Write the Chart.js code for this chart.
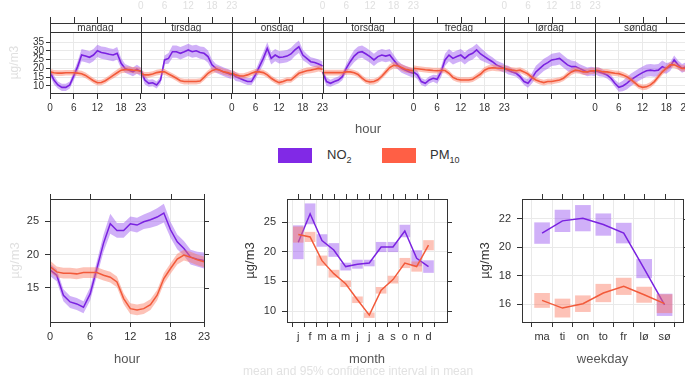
<!DOCTYPE html>
<html>
<head>
<meta charset="utf-8">
<script src="https://cdn.jsdelivr.net/npm/chart.js@4.4.0/dist/chart.umd.min.js"></script>
<style>
  body { margin: 0; background: #fff; width: 685px; height: 378px; overflow: hidden; position: relative; font-family: "Liberation Sans", Arial, sans-serif; }
  canvas { position: absolute; }
  .sw { position: absolute; width: 34px; height: 15px; top: 148px; }
  .lb { position: absolute; top: 147px; font-size: 13px; color: #333; }
  .lb sub { font-size: 9px; }
  #caption { position: absolute; left: 243px; top: 364px; font-size: 12px; color: #e2e2e2; white-space: nowrap; }
</style>
</head>
<body>
<canvas id="week" width="700" height="140" style="left:0;top:0"></canvas>

<span class="sw" style="left:278px;background:#8129e6"></span><span class="lb" style="left:327px">NO<sub>2</sub></span>
<span class="sw" style="left:382px;background:#ff5f45"></span><span class="lb" style="left:430px">PM<sub>10</sub></span>

<canvas id="hour" width="230" height="198" style="left:0;top:180px"></canvas>
<canvas id="month" width="230" height="198" style="left:230px;top:180px"></canvas>
<canvas id="weekday" width="230" height="198" style="left:455px;top:180px"></canvas>
<div id="caption">mean and 95% confidence interval in mean</div>

<script>
// ---- data ----
const dayNames = ["mandag", "tirsdag", "onsdag", "torsdag", "fredag", "lørdag", "søndag"];
const hourTicks = [0, 6, 12, 18, 23];

const no2Mon = [18, 13.4, 10.6, 9.2, 9.2, 10.6, 15.7, 21, 27.6, 27, 26.3, 27.6, 30, 29, 28.6, 28, 27.6, 28.6, 22.9, 20, 19, 18, 19.5, 18];
const pm10Mon = [18, 17.5, 17.3, 17.3, 17.5, 17.5, 17.5, 17.3, 17, 16, 14.5, 13, 11.8, 12, 13, 14.5, 16, 17.5, 19, 19.3, 19.3, 19, 18.8, 18.5];
const no2Tue = [19, 13.4, 11.5, 11.8, 10.6, 13.4, 24.8, 25.7, 29.5, 29.5, 28.6, 29.5, 30.5, 29.5, 30, 29, 28.6, 26.7, 22, 20, 19, 18, 17.2, 16.3];
const pm10Tue = [17.2, 16.3, 16.3, 16.8, 17.6, 18, 18, 16.8, 15.7, 14.4, 13, 12.5, 12.5, 12.5, 12.5, 12.8, 14.9, 17.2, 18.7, 19.5, 19, 18, 17.6, 16.8];
const no2Wed = [17.2, 15.3, 14.4, 13.4, 12.5, 12.5, 16.3, 21, 25.7, 31.4, 25.7, 27.6, 26.3, 26.5, 27, 28.2, 30.5, 32.3, 27.6, 25.7, 23.8, 23.3, 22.5, 21.4];
const pm10Wed = [17.6, 16.3, 15.7, 15.7, 16.3, 17.2, 18, 18, 17.6, 16.3, 14.4, 13, 11.9, 12.5, 13.4, 13.4, 15.3, 17.2, 18, 18.7, 19, 19.5, 20, 19.5];
const no2Thu = [18, 12.5, 11.5, 12.5, 13.4, 15.3, 20, 23.8, 27, 29, 29.5, 28.2, 26.7, 24.8, 26.7, 27.6, 27, 27.6, 24.8, 22, 20, 19, 18, 17.2];
const pm10Thu = [17.6, 17.6, 17.6, 17.6, 17.6, 17.6, 18, 18, 17.5, 16.5, 14.5, 12.8, 12.3, 12.5, 13.5, 15.5, 18, 20.5, 21.8, 21.5, 20.5, 19.5, 19, 18.6];
const no2Fri = [18, 16.3, 12.5, 11.5, 13.4, 14.4, 13.8, 18, 24.8, 27.6, 25.7, 26.7, 27.6, 25.7, 27.6, 28.6, 30.5, 28.2, 26.7, 25.2, 23.8, 22, 21, 20];
const pm10Fri = [20, 19.8, 19.5, 19.2, 19, 18.8, 18.7, 18.8, 18.8, 17.2, 14.9, 13.8, 13.4, 13.4, 13.4, 13.8, 15.3, 16.8, 19, 20, 20.4, 20.2, 20.1, 20];
const no2Sat = [20, 19, 18, 17.2, 15.3, 12.5, 11.5, 14.4, 18, 20, 22, 23.3, 24.8, 25.2, 25.7, 23.8, 22, 21, 21, 20, 19, 18, 18.5, 18];
const pm10Sat = [20, 19.5, 19, 18.7, 19, 18, 16.8, 14.9, 13.4, 12.5, 11.9, 12.5, 12.5, 13, 13.4, 14.4, 16.3, 18, 19, 18.7, 18, 18, 18.6, 18.6];
const no2Sun = [18.7, 18, 17.2, 16.3, 14.4, 11.5, 9.2, 10, 11.5, 13.4, 14.9, 16.3, 17.6, 18.7, 19, 18.7, 19, 21, 20, 21, 24.8, 22, 20, 21];
const pm10Sun = [19, 18.7, 18, 18, 17.6, 17.2, 17, 16.3, 15.3, 13.8, 11.9, 10, 9.2, 9.5, 10.6, 12.5, 15.3, 18, 20, 22, 22, 21, 20, 20];
// half width of the 95% band in the week panel, by hour
const ciNo2Week = [2, 2.5, 2, 2, 2, 2, 2.5, 3, 3.5, 3.5, 3.5, 3.5, 3.5, 3.5, 3.5, 3.5, 3.5, 3.5, 3, 2.5, 2.5, 2.5, 2.5, 2.5];
const ciPm10Week = [1.8, 1.6, 1.6, 1.6, 1.6, 1.6, 1.6, 1.6, 1.6, 1.6, 1.6, 1.6, 1.6, 1.6, 1.6, 1.6, 1.8, 1.8, 1.8, 1.8, 1.8, 1.8, 1.8, 1.8];

const no2Hour = [17.7, 16.9, 13.9, 12.9, 12.6, 12.1, 14.1, 17.9, 21.7, 24.6, 23.6, 23.6, 24.6, 24.4, 24.9, 25.2, 25.6, 26.2, 23.7, 21.9, 20.9, 19.6, 19.3, 19.1];
const ciNo2Hour = [0.9, 0.9, 0.9, 0.9, 0.9, 0.9, 1, 1.1, 1.3, 1.5, 1.1, 1.1, 1.1, 1.1, 1.1, 1.2, 1.3, 1.4, 1.2, 1.1, 1.1, 1.1, 1.1, 1.2];
const pm10Hour = [18.2, 17.4, 17.2, 17.2, 17.1, 17.3, 17.3, 17.3, 16.9, 16.6, 15.9, 13.4, 11.9, 11.7, 11.9, 12.5, 13.9, 16.4, 17.9, 19.3, 19.9, 19.6, 19.2, 18.9];
const ciPm10Hour = [0.9, 0.8, 0.8, 0.8, 0.8, 0.8, 0.8, 0.8, 0.8, 0.8, 0.8, 0.8, 0.8, 0.8, 0.8, 0.8, 0.8, 0.8, 0.8, 0.8, 0.8, 0.8, 0.8, 0.8];

const monthLabels = ["j", "f", "m", "a", "m", "j", "j", "a", "s", "o", "n", "d"];
const no2Month = [21.6, 26.4, 21.9, 20.3, 17.5, 17.9, 18.1, 20.8, 20.8, 23.5, 18.9, 17.5];
const ciNo2Month = [2.8, 1.7, 1.0, 1.1, 0.6, 0.7, 0.5, 0.8, 0.8, 1.0, 1.3, 1.0];
const pm10Month = [22.9, 22.5, 18.5, 16.3, 14.6, 11.9, 9.3, 13.5, 15.3, 18.1, 17.5, 21.1];
const ciPm10Month = [1.3, 0.8, 0.8, 0.6, 0.5, 0.5, 0.4, 0.5, 0.6, 0.8, 0.8, 0.8];

const weekdayLabels = ["ma", "ti", "on", "to", "fr", "lø", "sø"];
const no2Weekday = [21.0, 21.86, 22.05, 21.6, 21.0, 18.5, 15.95];
const ciNo2Weekday = [0.73, 0.76, 0.9, 0.76, 0.7, 0.65, 0.76];
const pm10Weekday = [16.26, 15.72, 16.03, 16.78, 17.25, 16.66, 16.03];
const ciPm10Weekday = [0.5, 0.64, 0.56, 0.62, 0.58, 0.54, 0.64];

// ---- styling ----
const NO2_LINE = "#7a22e0", NO2_FILL = "rgba(150,80,240,0.45)";
const PM_LINE = "#f25a3a", PM_FILL = "rgba(250,120,95,0.45)";
const INK = "#333", GRID = "#e9e9e9", FAINT = "#e0e0e0";

Chart.defaults.font.family = "'Liberation Sans', Arial, sans-serif";
Chart.defaults.color = INK;
Chart.defaults.animation = false;
Chart.defaults.plugins.legend.display = false;
Chart.defaults.plugins.tooltip.enabled = false;

// ---- week panel ----
const no2Week = [no2Mon, no2Tue, no2Wed, no2Thu, no2Fri, no2Sat, no2Sun];
const pm10Week = [pm10Mon, pm10Tue, pm10Wed, pm10Thu, pm10Fri, pm10Sat, pm10Sun];

function weekPoints(days, ci, sign) {
  const pts = [];
  days.forEach((vals, d) => {
    vals.forEach((v, h) => pts.push({ x: d * 23 + h, y: v + sign * ci[h] }));
    pts.push({ x: d * 23 + 23, y: null });
  });
  return pts;
}

const weekDecor = {
  id: "weekDecor",
  afterDraw(chart) {
    const { ctx, chartArea: a, scales: { x } } = chart;
    const stripTop = 23;
    ctx.save();
    ctx.strokeStyle = INK;
    ctx.lineWidth = 1;
    ctx.strokeRect(a.left + 0.5, stripTop + 0.5, a.right - a.left, a.bottom - stripTop);
    ctx.beginPath();
    ctx.moveTo(a.left, a.top + 0.5);
    ctx.lineTo(a.right, a.top + 0.5);
    for (let d = 1; d < 7; d++) {
      const px = Math.round(x.getPixelForValue(d * 23)) + 0.5;
      ctx.moveTo(px, stripTop);
      ctx.lineTo(px, a.bottom);
    }
    x.ticks.forEach(t => {
      const px = Math.round(x.getPixelForValue(t.value)) + 0.5;
      ctx.moveTo(px, stripTop);
      ctx.lineTo(px, stripTop - 6);
    });
    ctx.stroke();
    ctx.font = "10px 'Liberation Sans', Arial";
    ctx.textAlign = "center";
    ctx.textBaseline = "middle";
    ctx.fillStyle = INK;
    dayNames.forEach((n, d) => ctx.fillText(n, x.getPixelForValue(d * 23 + 11.5), (stripTop + a.top) / 2 + 0.5));
    ctx.fillStyle = FAINT;
    [1, 3, 5].forEach(d => hourTicks.forEach(h => ctx.fillText(String(h), x.getPixelForValue(d * 23 + h), 6)));
    ctx.restore();
  }
};

new Chart(document.getElementById("week"), {
  type: "line",
  data: {
    datasets: [
      { data: weekPoints(no2Week, ciNo2Week, 1), borderWidth: 0, pointRadius: 0, backgroundColor: NO2_FILL, fill: "+1", order: 4 },
      { data: weekPoints(no2Week, ciNo2Week, -1), borderWidth: 0, pointRadius: 0, fill: false, order: 4 },
      { data: weekPoints(no2Week, ciNo2Week, 0), borderColor: NO2_LINE, borderWidth: 1.6, pointRadius: 0, fill: false, order: 3 },
      { data: weekPoints(pm10Week, ciPm10Week, 1), borderWidth: 0, pointRadius: 0, backgroundColor: PM_FILL, fill: "+1", order: 2 },
      { data: weekPoints(pm10Week, ciPm10Week, -1), borderWidth: 0, pointRadius: 0, fill: false, order: 2 },
      { data: weekPoints(pm10Week, ciPm10Week, 0), borderColor: PM_LINE, borderWidth: 1.6, pointRadius: 0, fill: false, order: 1 }
    ]
  },
  options: {
    responsive: false,
    layout: { padding: { top: 32, right: 14, left: 0, bottom: 0 } },
    scales: {
      x: {
        type: "linear", min: 0, max: 161,
        afterBuildTicks: s => {
          const t = [];
          for (let d = 0; d < 7; d++) [0, 6, 12, 18].forEach(h => t.push({ value: d * 23 + h }));
          t.push({ value: 161 });
          s.ticks = t;
        },
        afterFit: s => { s.height = 47; },
        ticks: {
          autoSkip: false, maxRotation: 0, padding: 3, font: { size: 10 },
          callback: v => {
            const d = Math.floor(v / 23), h = v - d * 23;
            if (h === 0) {
              if (d === 7) return "23";
              if (d % 2 === 0) return "0";
              return "23";
            }
            return d % 2 === 0 ? String(h) : "";
          }
        },
        grid: {
          color: c => (c.tick && c.tick.value % 23 === 0) ? "rgba(0,0,0,0)" : GRID,
          tickColor: INK, tickLength: 6
        },
        border: { display: false },
        title: { display: true, text: "hour", font: { size: 13 }, color: "#555", padding: { top: 0, bottom: 2.8 } }
      },
      y: {
        min: 6, max: 40.7,
        afterBuildTicks: s => { s.ticks = [10, 15, 20, 25, 30, 35].map(v => ({ value: v })); },
        afterFit: s => { s.width = 50; },
        ticks: { autoSkip: false, padding: 2, font: { size: 10, lineHeight: 1 } },
        grid: { color: GRID, tickColor: INK, tickLength: 4 },
        border: { display: false },
        title: { display: true, text: "µg/m3", color: FAINT, font: { size: 12 }, padding: { top: 7.8, bottom: 0 } }
      }
    }
  },
  plugins: [weekDecor]
});

// ---- bottom panels ----
const frame = {
  id: "frame",
  afterDraw(chart) {
    const { ctx, chartArea: a, scales: { x, y } } = chart;
    ctx.save();
    ctx.strokeStyle = INK;
    ctx.lineWidth = 1;
    ctx.strokeRect(a.left + 0.5, a.top + 0.5, a.right - a.left, a.bottom - a.top);
    ctx.beginPath();
    x.ticks.forEach(t => {
      const px = Math.round(x.getPixelForValue(t.value)) + 0.5;
      ctx.moveTo(px, a.top);
      ctx.lineTo(px, a.top - 5);
    });
    y.ticks.forEach(t => {
      const py = Math.round(y.getPixelForValue(t.value)) + 0.5;
      ctx.moveTo(a.right, py);
      ctx.lineTo(a.right + 5, py);
    });
    ctx.stroke();
    ctx.restore();
  }
};

function panelScales(opt) {
  return {
    x: {
      type: "linear", min: opt.xmin, max: opt.xmax,
      afterBuildTicks: s => { s.ticks = opt.xticks.map(v => ({ value: v })); },
      afterFit: s => { s.height = 56; },
      ticks: { autoSkip: false, maxRotation: 0, padding: 3, font: { size: 11 }, callback: opt.xlabel },
      grid: { color: GRID, tickColor: INK, tickLength: 5 },
      border: { display: false },
      title: { display: true, text: opt.xtitle, color: "#555", font: { size: 13 }, padding: { top: 0, bottom: 10.8 } }
    },
    y: {
      min: opt.ymin, max: opt.ymax,
      afterBuildTicks: s => { s.ticks = opt.yticks.map(v => ({ value: v })); },
      afterFit: s => { s.width = opt.yw; },
      ticks: { autoSkip: false, padding: 6, font: { size: 11 } },
      grid: { color: GRID, tickColor: INK, tickLength: 5 },
      border: { display: false },
      title: { display: true, text: "µg/m3", color: opt.ytitleColor, font: { size: 13 }, padding: { top: opt.ytitlePad, bottom: 0 } }
    }
  };
}

function xy(vals, ci, sign) {
  return vals.map((v, i) => ({ x: i, y: v + sign * ci[i] }));
}
function boxes(vals, ci) {
  return vals.map((v, i) => ({ x: i, y: [v - ci[i], v + ci[i]] }));
}

// hour
new Chart(document.getElementById("hour"), {
  type: "line",
  data: {
    datasets: [
      { data: xy(no2Hour, ciNo2Hour, 1), borderWidth: 0, pointRadius: 0, backgroundColor: NO2_FILL, fill: "+1", order: 4 },
      { data: xy(no2Hour, ciNo2Hour, -1), borderWidth: 0, pointRadius: 0, fill: false, order: 4 },
      { data: xy(no2Hour, ciNo2Hour, 0), borderColor: NO2_LINE, borderWidth: 1.5, pointRadius: 0, fill: false, order: 3 },
      { data: xy(pm10Hour, ciPm10Hour, 1), borderWidth: 0, pointRadius: 0, backgroundColor: PM_FILL, fill: "+1", order: 2 },
      { data: xy(pm10Hour, ciPm10Hour, -1), borderWidth: 0, pointRadius: 0, fill: false, order: 2 },
      { data: xy(pm10Hour, ciPm10Hour, 0), borderColor: PM_LINE, borderWidth: 1.5, pointRadius: 0, fill: false, order: 1 }
    ]
  },
  options: {
    responsive: false,
    layout: { padding: { top: 19, right: 26, left: 0, bottom: 0 } },
    scales: panelScales({
      xmin: 0, xmax: 23, xticks: hourTicks, xlabel: v => String(v), xtitle: "hour",
      ymin: 9.9, ymax: 28.3, yticks: [15, 20, 25], yw: 50, ytitleColor: FAINT, ytitlePad: 7.8
    })
  },
  plugins: [frame]
});

// month
new Chart(document.getElementById("month"), {
  type: "line",
  data: {
    datasets: [
      { type: "bar", data: boxes(no2Month, ciNo2Month), backgroundColor: NO2_FILL, barThickness: 10, grouped: false, order: 4 },
      { data: xy(no2Month, ciNo2Month, 0), borderColor: NO2_LINE, borderWidth: 1.5, pointRadius: 0, fill: false, order: 3 },
      { type: "bar", data: boxes(pm10Month, ciPm10Month), backgroundColor: PM_FILL, barThickness: 10, grouped: false, order: 2 },
      { data: xy(pm10Month, ciPm10Month, 0), borderColor: PM_LINE, borderWidth: 1.5, pointRadius: 0, fill: false, order: 1 }
    ]
  },
  options: {
    responsive: false,
    layout: { padding: { top: 19, right: 13, left: 0, bottom: 0 } },
    scales: panelScales({
      xmin: -0.39, xmax: 12.0, xticks: monthLabels.map((m, i) => i), xlabel: v => monthLabels[v], xtitle: "month",
      ymin: 8.15, ymax: 28.9, yticks: [10, 15, 20, 25], yw: 57, ytitleColor: INK, ytitlePad: 12.8
    })
  },
  plugins: [frame]
});

// weekday
new Chart(document.getElementById("weekday"), {
  type: "line",
  data: {
    datasets: [
      { type: "bar", data: boxes(no2Weekday, ciNo2Weekday), backgroundColor: NO2_FILL, barThickness: 15, grouped: false, order: 4 },
      { data: xy(no2Weekday, ciNo2Weekday, 0), borderColor: NO2_LINE, borderWidth: 1.5, pointRadius: 0, fill: false, order: 3 },
      { type: "bar", data: boxes(pm10Weekday, ciPm10Weekday), backgroundColor: PM_FILL, barThickness: 15, grouped: false, order: 2 },
      { data: xy(pm10Weekday, ciPm10Weekday, 0), borderColor: PM_LINE, borderWidth: 1.5, pointRadius: 0, fill: false, order: 1 }
    ]
  },
  options: {
    responsive: false,
    layout: { padding: { top: 19, right: 2, left: 0, bottom: 0 } },
    scales: panelScales({
      xmin: -0.42, xmax: 6.34, xticks: weekdayLabels.map((w, i) => i), xlabel: v => weekdayLabels[v], xtitle: "weekday",
      ymin: 14.74, ymax: 23.4, yticks: [16, 18, 20, 22], yw: 67, ytitleColor: INK, ytitlePad: 22.8
    })
  },
  plugins: [frame]
});
</script>
</body>
</html>
